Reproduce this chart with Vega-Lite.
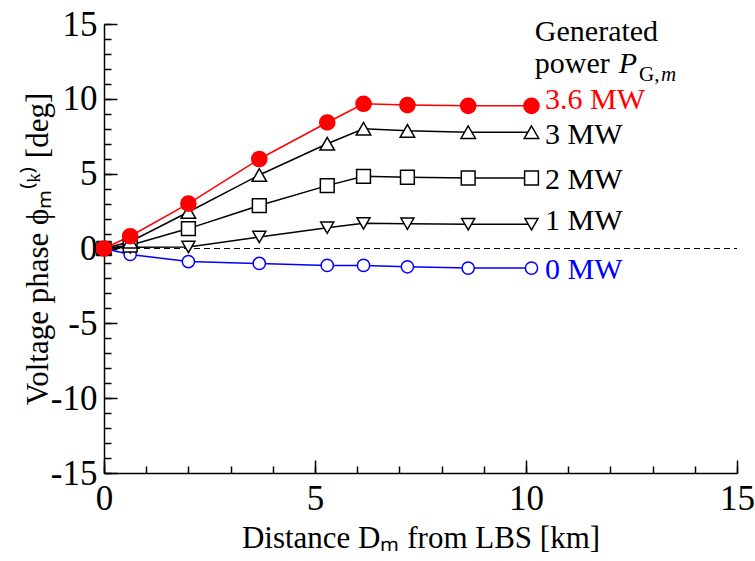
{
  "$schema": "https://vega.github.io/schema/vega-lite/v6.json",
  "width": 633,
  "height": 449,
  "autosize": "none",
  "padding": {"left": 104, "top": 24, "right": 18, "bottom": 88},
  "background": "white",
  "config": {
    "view": {"stroke": null},
    "font": "Liberation Serif",
    "axis": {
      "domainColor": "black",
      "domainWidth": 1.5,
      "tickColor": "black",
      "tickWidth": 1.5,
      "grid": false,
      "labelFont": "Liberation Serif",
      "labelFontSize": 35,
      "labelColor": "black",
      "titleFont": "Liberation Serif",
      "titleFontSize": 31,
      "titleFontWeight": "normal",
      "titleColor": "black",
      "labelFlush": false,
      "labelOverlap": false
    }
  },
  "resolve": {"axis": {"x": "independent", "y": "independent"}},
  "datasets": {
    "main": [
      {"s": "0 MW", "x": 0, "y": 0},
      {"s": "0 MW", "x": 0.62, "y": -0.4},
      {"s": "0 MW", "x": 2.0, "y": -0.87},
      {"s": "0 MW", "x": 3.68, "y": -1.0},
      {"s": "0 MW", "x": 5.29, "y": -1.13},
      {"s": "0 MW", "x": 6.15, "y": -1.13},
      {"s": "0 MW", "x": 7.19, "y": -1.22},
      {"s": "0 MW", "x": 8.63, "y": -1.31},
      {"s": "0 MW", "x": 10.13, "y": -1.31},
      {"s": "1 MW", "x": 0, "y": 0},
      {"s": "1 MW", "x": 0.62, "y": 0.08},
      {"s": "1 MW", "x": 2.0, "y": 0.1},
      {"s": "1 MW", "x": 3.68, "y": 0.77},
      {"s": "1 MW", "x": 5.29, "y": 1.39},
      {"s": "1 MW", "x": 6.15, "y": 1.68},
      {"s": "1 MW", "x": 7.19, "y": 1.66},
      {"s": "1 MW", "x": 8.63, "y": 1.62},
      {"s": "1 MW", "x": 10.13, "y": 1.62},
      {"s": "2 MW", "x": 0, "y": 0},
      {"s": "2 MW", "x": 0.62, "y": 0.22},
      {"s": "2 MW", "x": 2.0, "y": 1.33},
      {"s": "2 MW", "x": 3.68, "y": 2.87},
      {"s": "2 MW", "x": 5.29, "y": 4.2},
      {"s": "2 MW", "x": 6.15, "y": 4.82},
      {"s": "2 MW", "x": 7.19, "y": 4.76},
      {"s": "2 MW", "x": 8.63, "y": 4.71},
      {"s": "2 MW", "x": 10.13, "y": 4.71},
      {"s": "3 MW", "x": 0, "y": 0},
      {"s": "3 MW", "x": 0.62, "y": 0.45},
      {"s": "3 MW", "x": 2.0, "y": 2.44},
      {"s": "3 MW", "x": 3.68, "y": 4.91},
      {"s": "3 MW", "x": 5.29, "y": 7.0},
      {"s": "3 MW", "x": 6.15, "y": 8.0},
      {"s": "3 MW", "x": 7.19, "y": 7.86},
      {"s": "3 MW", "x": 8.63, "y": 7.77},
      {"s": "3 MW", "x": 10.13, "y": 7.77},
      {"s": "3.6 MW", "x": 0, "y": 0},
      {"s": "3.6 MW", "x": 0.62, "y": 0.82},
      {"s": "3.6 MW", "x": 2.0, "y": 3.0},
      {"s": "3.6 MW", "x": 3.68, "y": 5.98},
      {"s": "3.6 MW", "x": 5.29, "y": 8.42},
      {"s": "3.6 MW", "x": 6.15, "y": 9.67},
      {"s": "3.6 MW", "x": 7.19, "y": 9.58},
      {"s": "3.6 MW", "x": 8.63, "y": 9.53},
      {"s": "3.6 MW", "x": 10.13, "y": 9.53}
    ],
    "labels": [
      {"s": "3.6 MW", "y": 9.92},
      {"s": "3 MW", "y": 7.58},
      {"s": "2 MW", "y": 4.58},
      {"s": "1 MW", "y": 1.84},
      {"s": "0 MW", "y": -1.44}
    ],
    "one": [{}]
  },
  "layer": [
    {
      "data": {"name": "main"},
      "mark": {"type": "line", "strokeWidth": 1.5},
      "encoding": {
        "x": {
          "field": "x", "type": "quantitative",
          "scale": {"domain": [0, 15], "nice": false, "zero": false},
          "axis": {
            "orient": "bottom",
            "values": [0, 5, 10, 15],
            "tickSize": -13,
            "labelExpr": "toString(datum.value)",
            "labelPadding": 21,
            "title": "Distance Dₘ from LBS [km]",
            "titlePadding": 7
          }
        },
        "y": {
          "field": "y", "type": "quantitative",
          "scale": {"domain": [-15, 15], "nice": false, "zero": false},
          "axis": {
            "orient": "left",
            "values": [-15, -10, -5, 0, 5, 10, 15],
            "tickSize": -13,
            "labelExpr": "toString(datum.value)",
            "labelPadding": 20,
            "title": "Voltage phase ϕₘ⁽ᵏ⁾ [deg]",
            "titlePadding": -4
          }
        },
        "color": {
          "field": "s", "type": "nominal",
          "scale": {"domain": ["0 MW", "1 MW", "2 MW", "3 MW", "3.6 MW"], "range": ["#0000ff", "#000000", "#000000", "#000000", "#ff0000"]},
          "legend": null
        },
        "order": {"field": "x", "type": "quantitative"}
      }
    },
    {
      "data": {"name": "one"},
      "mark": {"type": "rule", "color": "black", "strokeWidth": 1, "strokeDash": [6, 4]},
      "encoding": {
        "x": {
          "datum": 0, "type": "quantitative",
          "axis": {
            "orient": "bottom",
            "values": [0,1,2,3,4,5,6,7,8,9,10,11,12,13,14,15],
            "tickSize": -7,
            "labels": false,
            "domain": false,
            "title": null
          }
        },
        "x2": {"datum": 15},
        "y": {
          "datum": 0, "type": "quantitative",
          "axis": {
            "orient": "left",
            "values": [-15,-14,-13,-12,-11,-10,-9,-8,-7,-6,-5,-4,-3,-2,-1,0,1,2,3,4,5,6,7,8,9,10,11,12,13,14,15],
            "tickSize": -7,
            "labels": false,
            "domain": false,
            "title": null
          }
        }
      }
    },
    {
      "data": {"name": "main"},
      "mark": {"type": "point", "filled": true, "strokeWidth": 1.5, "opacity": 1},
      "encoding": {
        "x": {"field": "x", "type": "quantitative", "axis": null},
        "y": {"field": "y", "type": "quantitative", "axis": null},
        "shape": {
          "field": "s", "type": "nominal",
          "scale": {"domain": ["0 MW", "1 MW", "2 MW", "3 MW", "3.6 MW"], "range": ["circle", "triangle-down", "square", "triangle-up", "circle"]},
          "legend": null
        },
        "size": {
          "field": "s", "type": "nominal",
          "scale": {"domain": ["0 MW", "1 MW", "2 MW", "3 MW", "3.6 MW"], "range": [150, 230, 170, 230, 180]},
          "legend": null
        },
        "fill": {
          "field": "s", "type": "nominal",
          "scale": {"domain": ["0 MW", "1 MW", "2 MW", "3 MW", "3.6 MW"], "range": ["#ffffff", "#ffffff", "#ffffff", "#ffffff", "#ff0000"]},
          "legend": null
        },
        "stroke": {
          "field": "s", "type": "nominal",
          "scale": {"domain": ["0 MW", "1 MW", "2 MW", "3 MW", "3.6 MW"], "range": ["#0000ff", "#000000", "#000000", "#000000", "#ff0000"]},
          "legend": null
        }
      }
    },
    {
      "data": {"name": "labels"},
      "mark": {"type": "text", "align": "left", "baseline": "middle", "font": "Liberation Serif", "fontSize": 30},
      "encoding": {
        "x": {"datum": 10.45, "type": "quantitative", "axis": null},
        "y": {"field": "y", "type": "quantitative", "axis": null},
        "text": {"field": "s"},
        "color": {"field": "s", "type": "nominal", "legend": null}
      }
    },
    {
      "data": {"name": "one"},
      "mark": {"type": "text", "align": "left", "baseline": "alphabetic", "font": "Liberation Serif", "fontSize": 30, "color": "black"},
      "encoding": {
        "x": {"datum": 10.21, "type": "quantitative", "axis": null},
        "y": {"datum": 13.85, "type": "quantitative", "axis": null},
        "text": {"value": "Generated"}
      }
    },
    {
      "data": {"name": "one"},
      "mark": {"type": "text", "align": "left", "baseline": "alphabetic", "font": "Liberation Serif", "fontSize": 30, "color": "black"},
      "encoding": {
        "x": {"datum": 10.21, "type": "quantitative", "axis": null},
        "y": {"datum": 11.72, "type": "quantitative", "axis": null},
        "text": {"value": "power"}
      }
    },
    {
      "data": {"name": "one"},
      "mark": {"type": "text", "align": "left", "baseline": "alphabetic", "font": "Liberation Serif", "fontSize": 30, "fontStyle": "italic", "color": "black"},
      "encoding": {
        "x": {"datum": 12.2, "type": "quantitative", "axis": null},
        "y": {"datum": 11.72, "type": "quantitative", "axis": null},
        "text": {"value": "P"}
      }
    },
    {
      "data": {"name": "one"},
      "mark": {"type": "text", "align": "left", "baseline": "alphabetic", "font": "Liberation Serif", "fontSize": 21, "color": "black"},
      "encoding": {
        "x": {"datum": 12.68, "type": "quantitative", "axis": null},
        "y": {"datum": 11.22, "type": "quantitative", "axis": null},
        "text": {"value": "G,"}
      }
    },
    {
      "data": {"name": "one"},
      "mark": {"type": "text", "align": "left", "baseline": "alphabetic", "font": "Liberation Serif", "fontSize": 21, "fontStyle": "italic", "color": "black"},
      "encoding": {
        "x": {"datum": 13.2, "type": "quantitative", "axis": null},
        "y": {"datum": 11.22, "type": "quantitative", "axis": null},
        "text": {"value": "m"}
      }
    }
  ]
}
